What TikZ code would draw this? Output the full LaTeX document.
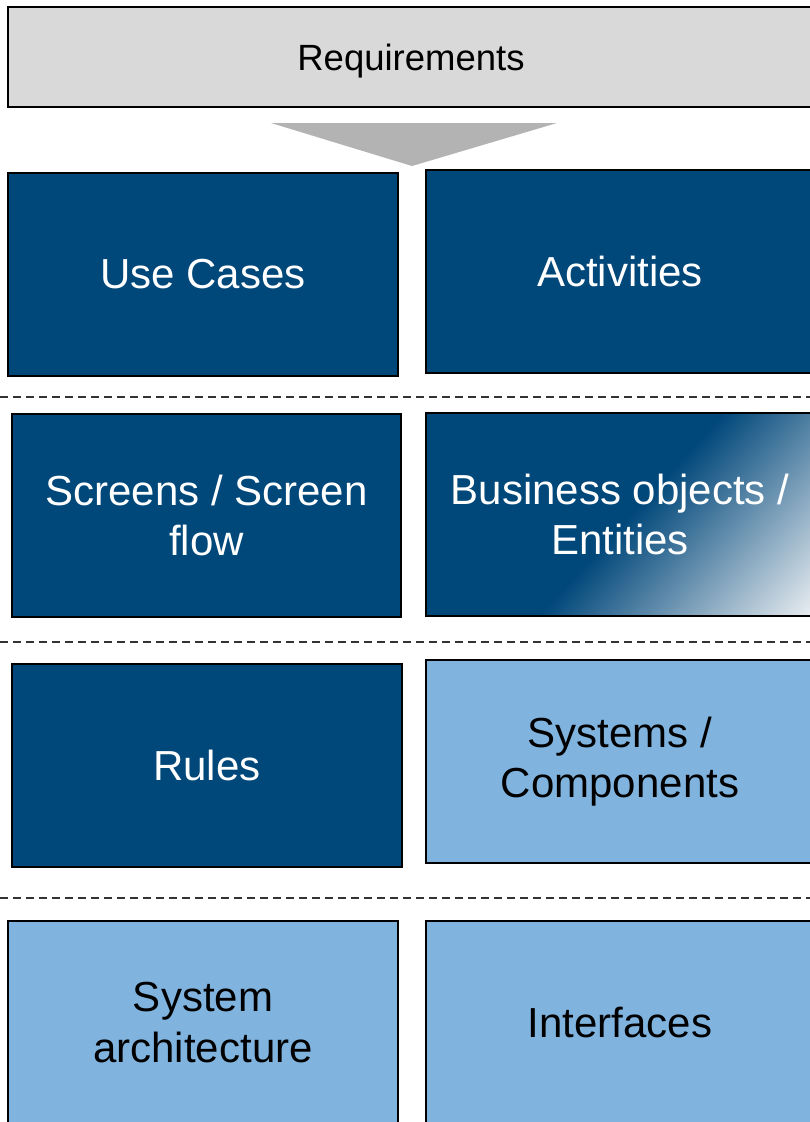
\documentclass[tikz,border=0pt]{standalone}
\usepackage{fontspec}
\setmainfont{Liberation Sans}
\definecolor{dkblue}{HTML}{00477A}
\definecolor{ltblue}{HTML}{80B4DF}
\definecolor{reqgray}{HTML}{D9D9D9}
\definecolor{trigray}{HTML}{B3B3B3}
\definecolor{gradend}{HTML}{EEF1F4}
\definecolor{sepgray}{HTML}{333333}
\pgfdeclarehorizontalshading{bograd}{600bp}{color(0bp)=(dkblue); color(205bp)=(gradend); color(300bp)=(gradend)}
\begin{document}
\begin{tikzpicture}[x=1pt,y=-1pt,
  box/.style={draw=black, line width=1.2pt, inner sep=0pt, align=center,
              font=\fontsize{42}{50.5}\selectfont},
  dark/.style={box, fill=dkblue, text=white},
  light/.style={box, fill=ltblue, text=black},
  sep/.style={draw=sepgray, line width=1.2pt, dash pattern=on 8pt off 5pt}]
\useasboundingbox (0,0) rectangle (810,1122);
\fill[white] (0,0) rectangle (810,1122);

% Requirements
\node[box, fill=reqgray, text=black, minimum width=806pt, minimum height=100pt,
      text depth=0pt, font=\fontsize{36.5}{44}\selectfont] (req) at (411,57) {Requirements};
\fill[trigray] (271,123) -- (557,123) -- (412,166) -- cycle;

% row 1
\node[dark, minimum width=390pt, minimum height=203pt] (uc) at (203,274.5) {Use Cases};
\node[dark, minimum width=388pt, minimum height=203pt] (act) at (620,271.5) {Activities};
\draw[sep] (0,397) -- (810,397);

% row 2
\node[dark, minimum width=389pt, minimum height=203pt] (scr) at (206.5,515.5) {Screens / Screen\\flow};
\coordinate (bonw) at (426,413);
\coordinate (bose) at (814,616);
\fill[dkblue] (bonw) rectangle (bose);
\begin{scope}
  \clip (bonw) rectangle (bose);
  \node[rotate=-42.4, inner sep=0pt, outer sep=0pt, anchor=west] (bosh) at (630,514.5) {\pgfuseshading{bograd}};
\end{scope}
\node[box, text=white, minimum width=388pt, minimum height=203pt] (bo) at (620,514.5) {Business objects /\\Entities};
\draw[sep] (0,642) -- (810,642);

% row 3
\node[dark, minimum width=390pt, minimum height=203pt] (rules) at (207,765.5) {Rules};
\node[light, minimum width=388pt, minimum height=203pt] (sys) at (620,761.5) {Systems /\\Components};
\draw[sep] (0,898) -- (810,898);

% row 4
\node[light, minimum width=390pt, minimum height=203pt] (arch) at (203,1022.5) {System\\architecture};
\node[light, minimum width=388pt, minimum height=203pt] (intf) at (620,1022.5) {Interfaces};
\end{tikzpicture}
\end{document}
